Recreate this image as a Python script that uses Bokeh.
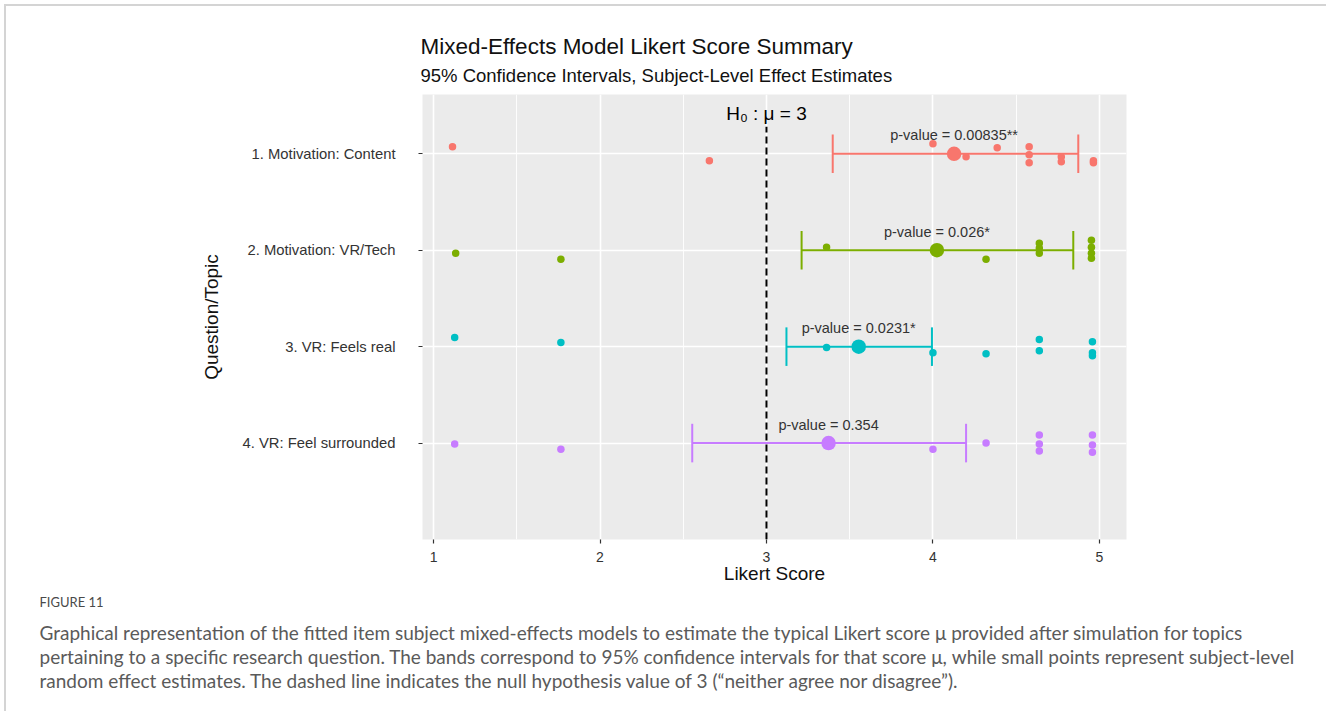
from bokeh.plotting import figure
from bokeh.models import FixedTicker, Range1d, Title
from bokeh.embed import file_html
from bokeh.resources import INLINE
from bokeh.core.properties import value

# ---------------- data ----------------
topics = ["1. Motivation: Content", "2. Motivation: VR/Tech",
          "3. VR: Feels real", "4. VR: Feel surrounded"]
colors = ["#F8766D", "#7CAE00", "#00BFC4", "#C77CFF"]
estimates = [4.127, 4.024, 3.554, 3.373]
ci_low = [3.398, 3.211, 3.120, 2.554]
ci_high = [4.873, 4.843, 3.994, 4.199]
p_labels = ["p-value = 0.00835**", "p-value = 0.026*", "p-value = 0.0231*", "p-value = 0.354"]
mu0 = 3

# subject-level random effect estimates (topic index, score, vertical jitter)
subj_topic = [0] * 12 + [1] * 11 + [2] * 10 + [3] * 10
subj_score = [1.114, 2.657, 4.000, 4.199, 4.386, 4.578, 4.578, 4.578, 4.771, 4.771, 4.964, 4.964,
              1.133, 1.765, 3.361, 4.319, 4.639, 4.639, 4.639, 4.952, 4.952, 4.952, 4.952,
              1.127, 1.765, 3.361, 4.000, 4.319, 4.639, 4.639, 4.958, 4.958, 4.958,
              1.127, 1.765, 4.000, 4.319, 4.639, 4.639, 4.639, 4.958, 4.958, 4.958]
subj_jitter = [0.073, -0.073, 0.104, -0.031, 0.063, 0.073, -0.010, -0.094, -0.031, -0.083, -0.073, -0.094,
               -0.031, -0.094, 0.031, -0.094, 0.073, 0.021, -0.031, 0.104, 0.031, -0.031, -0.083,
               0.094, 0.042, -0.010, -0.063, -0.073, 0.073, -0.042, 0.052, -0.063, -0.094,
               -0.010, -0.063, -0.063, 0.000, 0.083, -0.010, -0.083, 0.083, -0.021, -0.094]

x_ticks = [1, 2, 3, 4, 5]
x_minor = [1.5, 2.5, 3.5, 4.5]

title = "Mixed-Effects Model Likert Score Summary"
subtitle = "95% Confidence Intervals, Subject-Level Effect Estimates"
h0_label = "H\u2080 : \u03bc = 3"
fig_label = "FIGURE 11"
caption = [
    "Graphical representation of the fitted item subject mixed-effects models to estimate the typical Likert score \u03bc provided after simulation for topics",
    "pertaining to a specific research question. The bands correspond to 95% confidence intervals for that score \u03bc, while small points represent subject-level",
    "random effect estimates. The dashed line indicates the null hypothesis value of 3 (\u201cneither agree nor disagree\u201d).",
]

# ---------------- layout ----------------
PW, PH = 1326, 712                    # page area used
MG, BW = 4, 2                         # frame box margin and border width
OFFX, OFFY = 6, 7                     # canvas origin in page pixels (measured)
W, H = PW - OFFX, PH - OFFY
FL, FR, FT, FB = 422, 1124, 95, 538   # panel edges in page pixels
X0, X1 = 0.9337, 5.1627
Y0, Y1 = 0.0, 4.615

def dy(py):
    return Y1 - (py - FT) / (FB - FT) * (Y1 - Y0)

FONT = "Liberation Sans"
CFONT = "Lato"

n = len(topics)
ypos = [n - i for i in range(n)]
ymap = {n - i: t for i, t in enumerate(topics)}

p = figure(width=W, height=H, x_range=Range1d(X0, X1), y_range=Range1d(Y0, Y1),
           output_backend="svg", toolbar_location=None, title=None,
           min_border_left=FL - OFFX, min_border_right=W - (FR - OFFX),
           min_border_top=FT - OFFY, min_border_bottom=H - (FB - OFFY),
           background_fill_color="#EBEBEB", border_fill_color="white",
           outline_line_color=None, margin=(MG, 0, 0, MG),
           styles={"border-top": f"{BW}px solid #d4d4d4",
                   "border-left": f"{BW}px solid #d4d4d4",
                   "box-sizing": "content-box"})

# titles (first added sits nearest the panel)
p.add_layout(Title(text=subtitle, align="left", offset=-2, standoff=17,
                   text_font=FONT, text_font_size="18.5px", text_font_style="normal",
                   text_color="#111111"), "above")
p.add_layout(Title(text=title, align="left", offset=-2, standoff=-8,
                   text_font=FONT, text_font_size="22.5px", text_font_style="normal",
                   text_color="#111111"), "above")

p.xgrid.ticker = FixedTicker(ticks=x_ticks, minor_ticks=x_minor)
p.xgrid.grid_line_color = "white"
p.xgrid.grid_line_width = 1.6
p.xgrid.minor_grid_line_color = "white"
p.xgrid.minor_grid_line_width = 0.9
p.ygrid.ticker = FixedTicker(ticks=ypos)
p.ygrid.grid_line_color = "white"
p.ygrid.grid_line_width = 1.6

for ax in (p.xaxis[0], p.yaxis[0]):
    ax.axis_line_color = None
    ax.major_tick_line_color = "#333333"
    ax.major_tick_line_width = 1.2
    ax.major_tick_out = 4
    ax.major_tick_in = 0
    ax.minor_tick_line_color = None
    ax.major_label_text_font = FONT
    ax.major_label_text_color = "#333333"
    ax.axis_label_text_font = FONT
    ax.axis_label_text_font_size = "19px"
    ax.axis_label_text_font_style = "normal"
    ax.axis_label_text_color = "#111111"

p.xaxis.ticker = FixedTicker(ticks=x_ticks)
p.xaxis.axis_label = "Likert Score"
p.xaxis.major_label_text_font_size = "14px"
p.xaxis.major_label_standoff = 8
p.xaxis.axis_label_standoff = -2

p.yaxis.ticker = FixedTicker(ticks=ypos)
p.yaxis.major_label_overrides = ymap
p.yaxis.major_label_text_font_size = "14.8px"
p.yaxis.axis_label = "Question/Topic"
p.yaxis.major_label_standoff = 23
p.yaxis.axis_label_standoff = 18

# caption below the x axis (first added sits nearest the panel)
p.add_layout(Title(text=fig_label, align="left", offset=40 - FL - 1, standoff=11,
                   text_font=CFONT, text_font_size="13px", text_font_style="normal",
                   text_color="#4a4a4a"), "below")
p.add_layout(Title(text="\n".join(caption), align="left", offset=40 - FL - 1, standoff=8,
                   text_font=CFONT, text_font_size="19px", text_font_style="normal",
                   text_line_height=1.05, text_color="#5a5a5a"), "below")

# null hypothesis line and label
p.segment(x0=mu0, x1=mu0, y0=Y0, y1=dy(127), line_color="black", line_width=2,
          line_dash="7 4")
p.text(x=[mu0], y=[dy(114)], text=[h0_label], text_align="center",
       text_baseline="middle", text_font=value(FONT), text_font_size="19px",
       text_color="black")

# confidence intervals
cap = 0.2
p.segment(x0=ci_low, y0=ypos, x1=ci_high, y1=ypos, line_color=colors, line_width=2)
p.segment(x0=ci_low, y0=[y - cap for y in ypos], x1=ci_low, y1=[y + cap for y in ypos],
          line_color=colors, line_width=2)
p.segment(x0=ci_high, y0=[y - cap for y in ypos], x1=ci_high, y1=[y + cap for y in ypos],
          line_color=colors, line_width=2)

# subject-level points
sy = [ypos[t] + j for t, j in zip(subj_topic, subj_jitter)]
sc = [colors[t] for t in subj_topic]
p.scatter(x=subj_score, y=sy, size=7.5, fill_color=sc, line_color=None)

# estimates
p.scatter(x=estimates, y=ypos, size=14.5, fill_color=colors, line_color=None)

# p-value labels
p.text(x=estimates, y=[y + 0.19 for y in ypos], text=p_labels, text_align="center",
       text_baseline="middle", text_font=value(FONT), text_font_size="14.5px",
       text_color="#333333")

open("out.html", "w").write(file_html(p, INLINE))
